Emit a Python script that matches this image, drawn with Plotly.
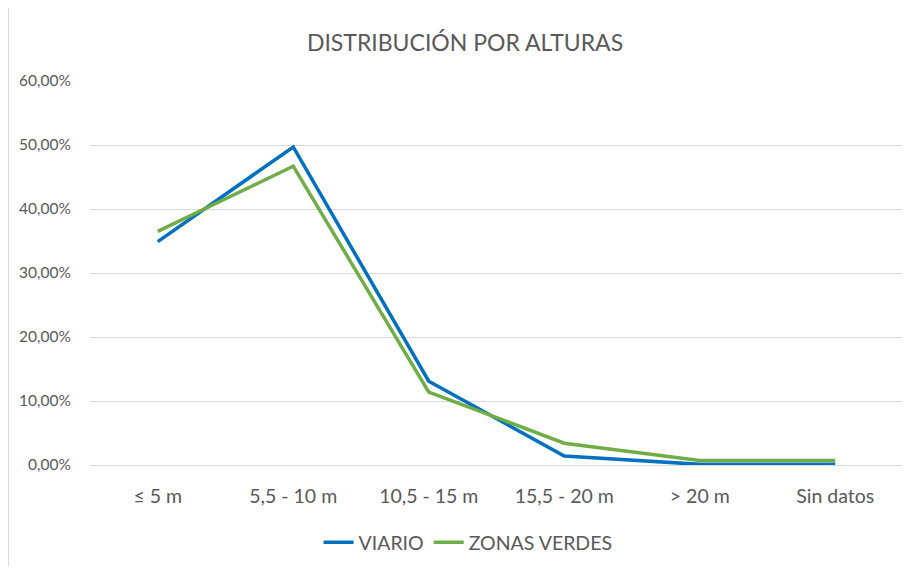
import plotly.graph_objects as go

categories = ["≤ 5 m", "5,5 - 10 m", "10,5 - 15 m", "15,5 - 20 m", "> 20 m", "Sin datos"]
viario = [0.349, 0.497, 0.131, 0.014, 0.001, 0.001]
zonas_verdes = [0.365, 0.467, 0.114, 0.034, 0.007, 0.007]

FONT = "Lato, Open Sans, sans-serif"
GREY = "#595959"

W, H = 902, 561
L, R, T, B = 82, 7, 73, 102
PW, PH = W - L - R, H - T - B

fig = go.Figure()
fig.add_trace(go.Scatter(x=categories, y=viario, mode="lines", name="VIARIO",
                         line=dict(color="#0070C0", width=3.5)))
fig.add_trace(go.Scatter(x=categories, y=zonas_verdes, mode="lines", name="ZONAS VERDES",
                         line=dict(color="#70AD47", width=3.5)))

fig.update_layout(
    width=W, height=H,
    margin=dict(l=L, r=R, t=T, b=B),
    paper_bgcolor="white", plot_bgcolor="white",
    separators=",.",
    font=dict(family=FONT, color=GREY, size=15),
    title=dict(text="DISTRIBUCIÓN POR ALTURAS", x=457 / W, xanchor="center",
               y=1 - 35 / H, yanchor="middle", yref="container",
               font=dict(family=FONT, size=23, color=GREY)),
    xaxis=dict(type="category", range=[-0.5, 5.5], showgrid=False, zeroline=False,
               showline=False, ticks="", ticklabelstandoff=17,
               tickfont=dict(size=19.5, color=GREY)),
    yaxis=dict(range=[0, 0.6001], dtick=0.1, tickformat=".2%", showgrid=True,
               gridcolor="#D9D9D9", gridwidth=1, zeroline=True, zerolinecolor="#D9D9D9",
               zerolinewidth=1, showline=False,
               ticks="", ticklabelstandoff=18, tickfont=dict(size=15.5, color=GREY)),
    legend=dict(orientation="h", x=0.465, xanchor="center", y=-78 / PH, yanchor="middle",
                font=dict(size=19.5, color=GREY)),
    showlegend=True,
)
fig.add_shape(type="line", xref="paper", yref="paper", x0=-L / PW + 0.5 / PW, x1=-L / PW + 0.5 / PW,
              y0=-B / PH, y1=1 + T / PH, line=dict(color="#D9D9D9", width=1))

fig.write_html("out.html")
